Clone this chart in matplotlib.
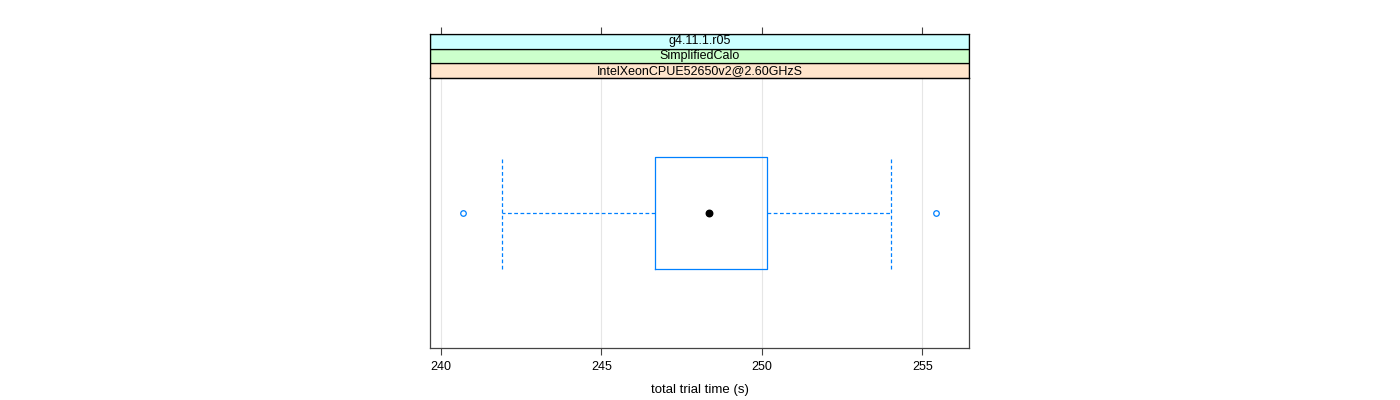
import matplotlib
matplotlib.use("Agg")
import matplotlib.pyplot as plt

plt.rcParams['font.family'] = ['Liberation Sans', 'DejaVu Sans']

# box statistics
q1 = 246.67
median = 248.35
q3 = 250.16
whisker_lo = 241.90
whisker_hi = 254.02
outliers = [240.69, 255.42]

strip_labels = ["IntelXeonCPUE52650v2@2.60GHzS", "SimplifiedCalo", "g4.11.1.r05"]
strip_colors = ["#ffe5cc", "#ccffcc", "#ccffff"]
xticks = [240, 245, 250, 255]

blue = "#0080ff"
frame = "#444444"

fig = plt.figure(figsize=(14, 4), dpi=100)
ax = fig.add_axes([430 / 1400, 1 - 348 / 400, 539 / 1400, 270 / 400])
sax = fig.add_axes([430 / 1400, 1 - 78 / 400, 539 / 1400, 44 / 400], sharex=ax)

stats = [dict(med=median, q1=q1, q3=q3, whislo=whisker_lo, whishi=whisker_hi,
              fliers=outliers)]
ax.bxp(stats, positions=[1], widths=0.415, capwidths=0.415, orientation='horizontal',
       showcaps=True, showfliers=True,
       boxprops=dict(color=blue, linewidth=0.9),
       whiskerprops=dict(color=blue, linestyle=(0, (3, 2)), linewidth=0.9),
       capprops=dict(color=blue, linestyle=(0, (3, 2)), linewidth=0.9),
       medianprops=dict(linewidth=0),
       flierprops=dict(marker='o', markersize=4, markerfacecolor='none',
                       markeredgecolor=blue, markeredgewidth=0.9))
ax.scatter([median], [1], s=22, color='black', zorder=5)

ax.set_xlim(239.66, 256.45)
ax.set_ylim(0.5, 1.5)
ax.set_xticks(xticks)
ax.set_xticklabels([str(t) for t in xticks], fontsize=9)
ax.set_yticks([])
ax.grid(axis='x', color='#e6e6e6', linewidth=0.8)
ax.set_axisbelow(True)
ax.tick_params(axis='x', direction='out', length=5, color=frame, pad=4)
for s in ax.spines.values():
    s.set_color(frame)
    s.set_linewidth(0.9)
ax.set_xlabel("total trial time (s)", fontsize=9.5, labelpad=8)

# strips
sax.set_ylim(0, 3)
for i, (lab, col) in enumerate(zip(strip_labels, strip_colors)):
    sax.axhspan(i, i + 1, facecolor=col, edgecolor='black', linewidth=0.9)
    sax.text(0.5, i + 0.5, lab, transform=sax.get_yaxis_transform(),
             ha='center', va='center', fontsize=9)
sax.set_yticks([])
sax.tick_params(axis='x', which='both', bottom=False, labelbottom=False,
                top=True, labeltop=False, direction='out', length=5, color=frame)
for s in sax.spines.values():
    s.set_color('black')
    s.set_linewidth(0.9)

fig.savefig("out.png", dpi=100)
